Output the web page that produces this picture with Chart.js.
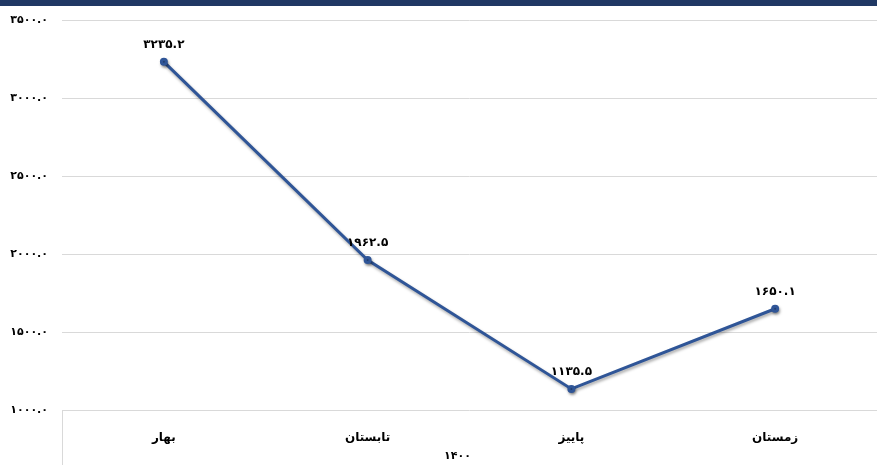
<!DOCTYPE html>
<html>
<head>
<meta charset="utf-8">
<script src="https://cdn.jsdelivr.net/npm/chart.js@4"></script>
<style>
  html, body { margin: 0; padding: 0; background: #fff; overflow: hidden; }
  #topBar { position: absolute; top: 0; left: 0; width: 877px; height: 6px; background: #203864; }
  #wrap { position: absolute; top: 0; left: 0; width: 884px; height: 465px; }
</style>
</head>
<body>
<div id="wrap"><canvas id="seasonChart" width="884" height="465"></canvas></div>
<div id="topBar"></div>
<script>
// Seasonal values for 1400
const seasons = ["بهار", "تابستان", "پاییز", "زمستان"];
const values = [3235.2, 1962.5, 1135.5, 1650.1];
const yearLabel = "1400";
const yTicks = [1000, 1500, 2000, 2500, 3000, 3500];

const FONT = "'DejaVu Sans', sans-serif";
const LINE_COLOR = "#2F5597";

const toFa = (s) => String(s).replace(/[0-9]/g, (d) => "۰۱۲۳۴۵۶۷۸۹"[d]);

// soft drop shadow under the series line
const shadowPlugin = {
    id: "lineShadow",
    beforeDatasetsDraw(chart) {
        const c = chart.ctx;
        c.save();
        c.shadowColor = "rgba(0,0,0,0.35)";
        c.shadowBlur = 3;
        c.shadowOffsetX = 1;
        c.shadowOffsetY = 2;
    },
    afterDatasetsDraw(chart) {
        chart.ctx.restore();
    }
};

// value labels above points, category box edge and the year label
const labelPlugin = {
    id: "valueLabels",
    afterDraw(chart) {
        const c = chart.ctx;
        const area = chart.chartArea;
        c.save();
        c.strokeStyle = "#d9d9d9";
        c.lineWidth = 1;
        c.beginPath();
        c.moveTo(area.left + 0.5, area.bottom);
        c.lineTo(area.left + 0.5, chart.height);
        c.stroke();

        c.fillStyle = "#000";
        c.font = "bold 12px " + FONT;
        c.textAlign = "center";
        c.textBaseline = "bottom";
        chart.getDatasetMeta(0).data.forEach((pt, i) => {
            c.fillText(toFa(values[i].toFixed(1)), pt.x, pt.y - 11);
        });

        c.font = "bold 11px " + FONT;
        c.textBaseline = "middle";
        c.fillText(toFa(yearLabel), (area.left + area.right) / 2 - 12, 456);
        c.restore();
    }
};

new Chart(document.getElementById("seasonChart"), {
    type: "line",
    data: {
        labels: seasons,
        datasets: [{
            data: values,
            borderColor: LINE_COLOR,
            backgroundColor: LINE_COLOR,
            borderWidth: 3,
            pointRadius: 2.5,
            pointBackgroundColor: LINE_COLOR,
            pointBorderColor: LINE_COLOR,
            tension: 0,
            fill: false
        }]
    },
    options: {
        responsive: false,
        animation: false,
        layout: { padding: { top: 19, right: 0, left: 0, bottom: 0 } },
        plugins: { legend: { display: false }, tooltip: { enabled: false } },
        scales: {
            y: {
                min: yTicks[0],
                max: yTicks[yTicks.length - 1],
                afterBuildTicks: (axis) => { axis.ticks = yTicks.map((v) => ({ value: v })); },
                afterFit: (axis) => { axis.width = 62; },
                border: { display: false },
                grid: { color: "#d9d9d9", drawTicks: false, lineWidth: 1 },
                ticks: {
                    padding: 14,
                    color: "#000",
                    font: { family: FONT, size: 11, weight: "bold" },
                    callback: (v) => toFa(Number(v).toFixed(1))
                }
            },
            x: {
                offset: true,
                afterFit: (axis) => { axis.height = 55; },
                border: { display: false },
                grid: { display: false },
                ticks: {
                    padding: 13,
                    color: "#000",
                    font: { family: FONT, size: 12, weight: "bold" }
                }
            }
        }
    },
    plugins: [shadowPlugin, labelPlugin]
});
</script>
</body>
</html>
